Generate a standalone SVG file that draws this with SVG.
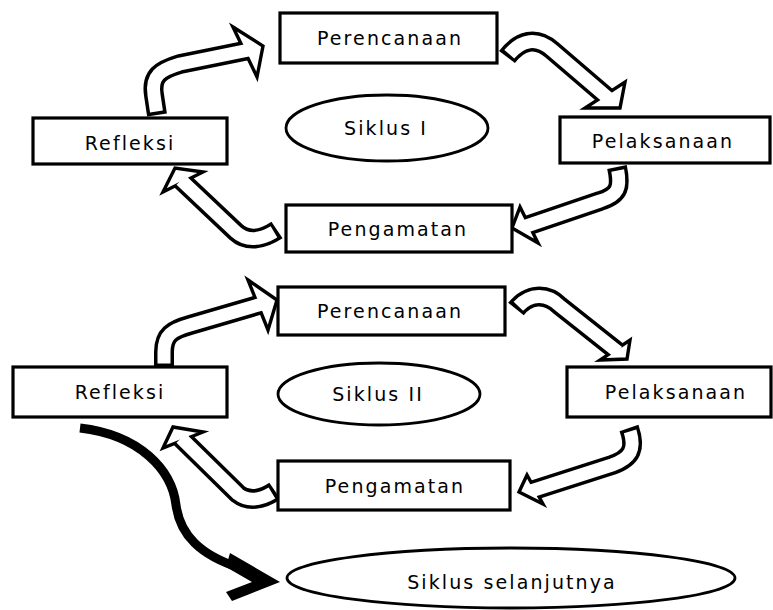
<svg xmlns="http://www.w3.org/2000/svg" width="773" height="610" viewBox="0 0 773 610">
<style>
.box{fill:#fff;stroke:#000;stroke-width:3.2}
.ell{fill:#fff;stroke:#000;stroke-width:2.8}
.t{font-family:"DejaVu Sans",Verdana,sans-serif;font-size:19px;letter-spacing:2.1px;fill:#000;text-anchor:middle}
.ab{fill:none;stroke:#000;stroke-width:20;stroke-linejoin:round}
.aw{fill:none;stroke:#fff;stroke-width:13;stroke-linejoin:round;stroke-dasharray:0 3.5 3000 0}
.ah{fill:#fff;stroke:#000;stroke-width:3.4;stroke-linejoin:miter}
</style>
<rect width="773" height="610" fill="#fff"/>
<g id="connectors">
  <path class="ab" d="M 157 115 L 154 95 C 151 76 160 70 180 64 L 249 50"/>
  <polygon class="ah" points="233,27 263,46 257,77"/>
  <path class="aw" d="M 157 115 L 154 95 C 151 76 160 70 180 64 L 249 50"/>
  <path class="ab" d="M 507 57 C 520 40 536 36 552 50 L 608 98"/>
  <polygon class="ah" points="625,82 620,108 585,108"/>
  <path class="aw" d="M 507 57 C 520 40 536 36 552 50 L 608 98"/>
  <path class="ab" d="M 617 167 C 621 186 620 195 600 201 L 525 226.5"/>
  <polygon class="ah" points="520,207 512,228 538,243"/>
  <path class="aw" d="M 617 167 C 621 186 620 195 600 201 L 525 226.5"/>
  <path class="ab" d="M 277 230 C 262 240 247 242 236 232 L 181 180"/>
  <polygon class="ah" points="163,192 175,168 203,172"/>
  <path class="aw" d="M 277 230 C 262 240 247 242 236 232 L 181 180"/>
  <path class="ab" d="M 164 367 L 164 352 C 164 335 172 330 190 325 L 262 304"/>
  <polygon class="ah" points="248,280 277,300 268,330"/>
  <path class="aw" d="M 164 367 L 164 352 C 164 335 172 330 190 325 L 262 304"/>
  <path class="ab" d="M 516 309 C 528 294 546 292 560 306 L 618 352"/>
  <polygon class="ah" points="630,340 627,359 600,360"/>
  <path class="aw" d="M 516 309 C 528 294 546 292 560 306 L 618 352"/>
  <path class="ab" d="M 629 428 C 636 448 632 458 612 465 L 531 491"/>
  <polygon class="ah" points="527,475 519,492 543,504"/>
  <path class="aw" d="M 629 428 C 636 448 632 458 612 465 L 531 491"/>
  <path class="ab" d="M 275 491 C 262 500 248 502 238 494 L 181 438"/>
  <polygon class="ah" points="163,448 173,427 203,432"/>
  <path class="aw" d="M 275 491 C 262 500 248 502 238 494 L 181 438"/>
  <path d="M 80 428 C 140 435 172 470 176 505 C 180 535 200 555 240 568" fill="none" stroke="#000" stroke-width="9"/>
  <polygon points="230,553 280,582 232,601 226,592 252,582 226,567" fill="#000"/>
</g>
<g id="perencanaan1"><rect class="box" x="280" y="13" width="217" height="50"/><text class="t" x="390" y="45">Perencanaan</text></g>
<g id="refleksi1"><rect class="box" x="33" y="118" width="194" height="46"/><text class="t" x="130" y="150">Refleksi</text></g>
<g id="pelaksanaan1"><rect class="box" x="560" y="117" width="210" height="46"/><text class="t" x="663" y="148">Pelaksanaan</text></g>
<g id="pengamatan1"><rect class="box" x="286" y="205" width="226" height="47"/><text class="t" x="398" y="236">Pengamatan</text></g>
<g id="siklus1"><ellipse class="ell" cx="387" cy="128" rx="101" ry="33"/><text class="t" x="386" y="135">Siklus I</text></g>
<g id="perencanaan2"><rect class="box" x="278" y="287" width="227" height="48"/><text class="t" x="390" y="318">Perencanaan</text></g>
<g id="refleksi2"><rect class="box" x="13" y="367" width="214" height="50"/><text class="t" x="120" y="399">Refleksi</text></g>
<g id="pelaksanaan2"><rect class="box" x="567" y="367" width="204" height="50"/><text class="t" x="676" y="399">Pelaksanaan</text></g>
<g id="pengamatan2"><rect class="box" x="278" y="461" width="232" height="49"/><text class="t" x="395" y="493">Pengamatan</text></g>
<g id="siklus2"><ellipse class="ell" cx="379" cy="394" rx="101" ry="31"/><text class="t" x="378" y="401">Siklus II</text></g>
<g id="siklus-selanjutnya"><ellipse class="ell" cx="511" cy="578" rx="224" ry="30"/><text class="t" x="512" y="589">Siklus selanjutnya</text></g>
</svg>
